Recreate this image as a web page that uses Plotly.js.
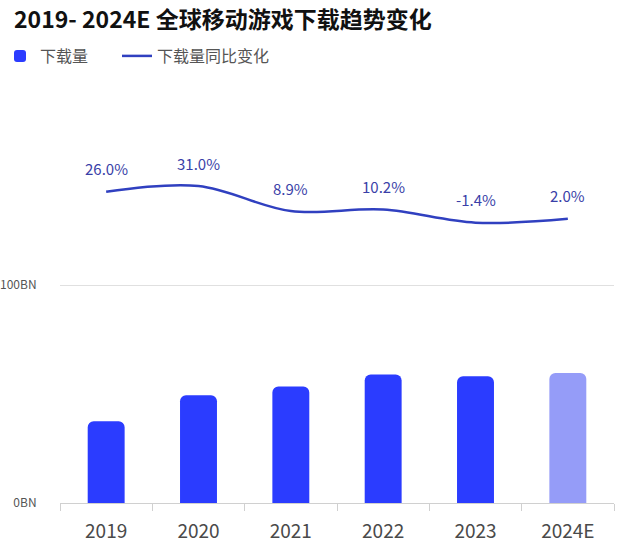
<!DOCTYPE html>
<html>
<head>
<meta charset="utf-8">
<script src="https://cdn.plot.ly/plotly-3.0.1.min.js"></script>
<style>html,body{margin:0;padding:0;background:#fff;}#chart{width:629px;height:552px;}</style>
</head>
<body>
<div id="chart"></div>
<script>
const years = ["2019", "2020", "2021", "2022", "2023", "2024E"];
const downloads = [37.5, 49.4, 53.5, 59.0, 58.2, 59.6];
const yoyChange = [26.0, 31.0, 8.9, 10.2, -1.4, 2.0];
const yoyLabels = ["26.0%", "31.0%", "8.9%", "10.2%", "-1.4%", "2.0%"];
const barColors = ["#2b3cff", "#2b3cff", "#2b3cff", "#2b3cff", "#2b3cff", "#959cf8"];

const FONT = '"Noto Sans CJK SC", "Noto Sans", sans-serif';

const traces = [
  {
    type: 'bar',
    name: '下载量',
    x: years,
    y: downloads,
    width: 0.4,
    marker: {color: barColors, cornerradius: 6},
    legend: 'legend',
    hoverinfo: 'skip'
  },
  {
    type: 'scatter',
    mode: 'lines',
    name: '下载量同比变化',
    x: years,
    y: yoyChange,
    yaxis: 'y2',
    legend: 'legend2',
    line: {color: '#3040c0', width: 2.5, shape: 'spline', smoothing: 1},
    hoverinfo: 'skip'
  }
];

const annotations = years.map((yr, i) => ({
  x: i, y: yoyChange[i], xref: 'x', yref: 'y2',
  text: yoyLabels[i], showarrow: false, yshift: 23,
  font: {family: FONT, size: 15, color: '#3a3fa8'}
}));

const legendBase = {
  orientation: 'h', xref: 'container', yref: 'container',
  xanchor: 'left', y: 1 - 56/552, yanchor: 'middle',
  font: {family: FONT, size: 16, color: '#555'},
  itemwidth: 30, bgcolor: 'rgba(0,0,0,0)'
};

const layout = {
  width: 629, height: 552,
  margin: {l: 60, r: 15, t: 120, b: 49},
  paper_bgcolor: '#fff', plot_bgcolor: '#fff',
  font: {family: FONT, color: '#555'},
  title: {
    text: '<b>2019- 2024E 全球移动游戏下载趋势变化</b>',
    x: 14/629, xref: 'container', xanchor: 'left',
    y: 1 - 20/552, yref: 'container', yanchor: 'middle',
    font: {family: FONT, size: 23, color: '#111'}
  },
  showlegend: true,
  legend: Object.assign({}, legendBase, {x: 0}),
  legend2: Object.assign({}, legendBase, {x: 117/629}),
  xaxis: {
    type: 'category',
    categoryorder: 'array', categoryarray: years,
    range: [-0.5, years.length - 0.5], autorange: false,
    showgrid: false,
    showline: true, linecolor: '#d0d0d0', linewidth: 1,
    ticks: 'outside', tickson: 'boundaries', ticklen: 7, tickcolor: '#d0d0d0',
    tickfont: {family: FONT, size: 19, color: '#4a4a4a'},
    ticklabelstandoff: 11,
    tickangle: 0,
    zeroline: false
  },
  yaxis: {
    range: [0, 175.7], autorange: false,
    tickvals: [0, 100], ticktext: ['0BN', '100BN'],
    showgrid: true, gridcolor: '#e0e0e0', gridwidth: 1,
    zeroline: false, showline: false,
    tickfont: {family: FONT, size: 12, color: '#555'},
    ticks: 'outside', ticklen: 20, tickcolor: 'rgba(0,0,0,0)'
  },
  yaxis2: {
    overlaying: 'y', side: 'right',
    range: [-248.8, 89.25], autorange: false,
    showgrid: false, zeroline: false, showticklabels: false, showline: false
  },
  annotations: annotations
};

Plotly.newPlot('chart', traces, layout, {displayModeBar: false, staticPlot: true});
</script>
</body>
</html>
